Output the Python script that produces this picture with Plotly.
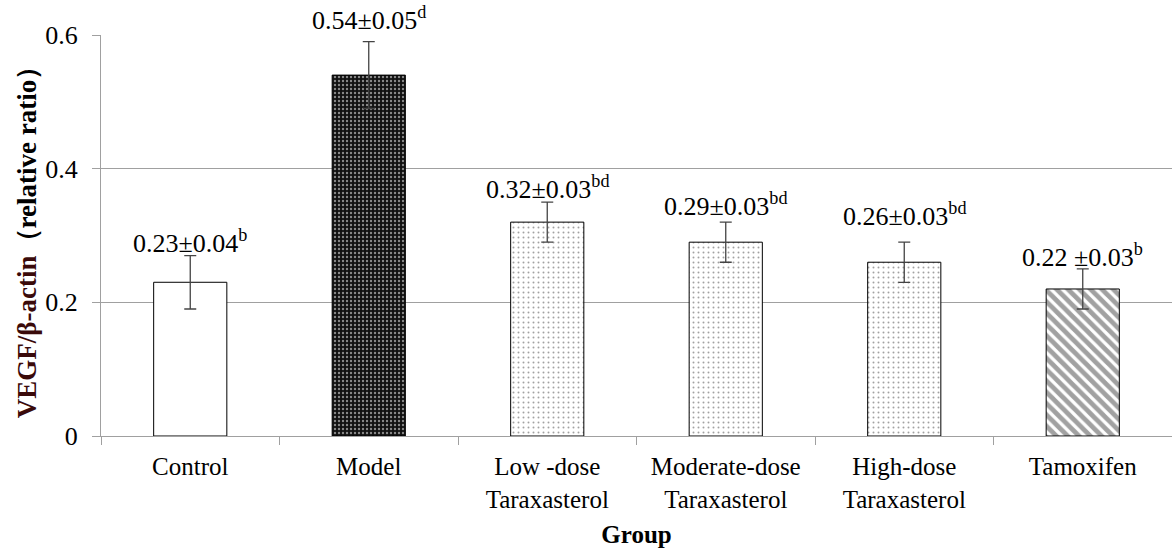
import plotly.graph_objects as go

categories = ["Control", "Model", "Low -dose<br>Taraxasterol", "Moderate-dose<br>Taraxasterol",
              "High-dose<br>Taraxasterol", "Tamoxifen"]
values = [0.23, 0.54, 0.32, 0.29, 0.26, 0.22]
errors = [0.04, 0.05, 0.03, 0.03, 0.03, 0.03]
labels = ["0.23±0.04<sup>b</sup>", "0.54±0.05<sup>d</sup>", "0.32±0.03<sup>bd</sup>",
          "0.29±0.03<sup>bd</sup>", "0.26±0.03<sup>bd</sup>", "0.22 ±0.03<sup>b</sup>"]
y_ticks = [0, 0.2, 0.4, 0.6]
y_tick_text = ["0", "0.2", "0.4", "0.6"]

FONT = "Liberation Serif"

bar_fill = ["white", "#111111", "white", "white", "white", "white"]
pat_shape = ["", ".", ".", ".", ".", "\\"]
pat_fg = ["black", "white", "#333333", "#333333", "#333333", "black"]
pat_size = [8, 4, 5, 5, 5, 8]
pat_sol = [0.2, 0.28, 0.12, 0.12, 0.12, 0.6]
label_shift = [14, 23, 15, 18, 28, 13]

fig = go.Figure()
fig.add_trace(go.Bar(
    x=categories, y=values,
    width=0.41,
    marker=dict(
        color=bar_fill,
        line=dict(color="black", width=1),
        pattern=dict(shape=pat_shape, fgcolor=pat_fg, bgcolor=bar_fill,
                     size=pat_size, solidity=pat_sol, fillmode="overlay"),
    ),
    error_y=dict(type="data", array=errors, visible=True, color="#444444",
                 thickness=1.3, width=6),
    showlegend=False,
))

for c, v, e, t, s in zip(categories, values, errors, labels, label_shift):
    fig.add_annotation(x=c, y=v + e, text=t, showarrow=False, yanchor="middle",
                       yshift=s, font=dict(family=FONT, size=26, color="black"))

fig.update_layout(
    width=1172, height=552,
    margin=dict(l=101, r=0, t=35, b=116),
    plot_bgcolor="white", paper_bgcolor="white",
    font=dict(family=FONT, size=26, color="black"),
    bargap=0.59,
)
fig.update_yaxes(
    range=[0, 0.6], tickvals=y_ticks, ticktext=y_tick_text,
    showgrid=True, gridcolor="#a0a0a0", gridwidth=1,
    showline=True, linecolor="#a0a0a0", linewidth=1,
    ticks="outside", ticklen=8, tickcolor="#a0a0a0",
    tickfont=dict(family=FONT, size=26, color="black"),
    ticklabelstandoff=9,
    zeroline=False, automargin=False,
    title=dict(text="<b><span style='color:#3a0a0a'>VEGF/β-actin</span>（relative ratio）</b>",
               font=dict(family=FONT, size=27, color="black"), standoff=0),
)
fig.update_xaxes(
    showline=True, linecolor="#a0a0a0", linewidth=1,
    ticks="outside", ticklen=8, tickcolor="#a0a0a0", tickson="boundaries",
    tickfont=dict(family=FONT, size=25, color="black"),
    ticklabelstandoff=8,
    automargin=False,
    title=dict(text="<b>Group</b>", font=dict(family=FONT, size=25, color="black"), standoff=13),
)

fig.write_html("out.html", post_script="document.body.style.margin='0';",
               config={"displayModeBar": False})
